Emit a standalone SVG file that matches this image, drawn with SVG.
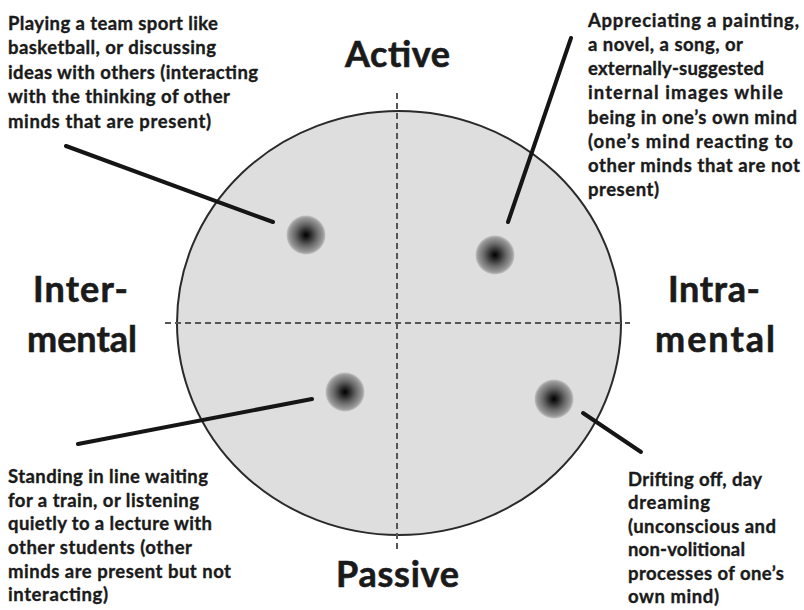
<svg xmlns="http://www.w3.org/2000/svg" width="804" height="610" viewBox="0 0 804 610">
  <style>
    .note { font-family: Lato, "Open Sans", "Liberation Sans", sans-serif; font-weight: 700; font-size: 18.5px; fill: #1a1a1a; stroke: #1a1a1a; stroke-width: 0.35; }
    .axis { font-family: Lato, "Open Sans", "Liberation Sans", sans-serif; font-weight: 700; font-size: 36px; fill: #1a1a1a; stroke: #1a1a1a; stroke-width: 0.6; }
    .dash { stroke: #555; stroke-width: 2; stroke-dasharray: 6 4; fill: none; }
    .leader { stroke: #151515; stroke-width: 4; stroke-linecap: round; fill: none; }
  </style>
  <defs>
    <radialGradient id="spot" cx="0.5" cy="0.5" r="0.5">
      <stop offset="0" stop-color="#000"/>
      <stop offset="0.2" stop-color="#222"/>
      <stop offset="0.55" stop-color="#666"/>
      <stop offset="0.88" stop-color="#9a9a9a"/>
      <stop offset="1" stop-color="#c4c4c4"/>
    </radialGradient>
  </defs>
  <rect width="804" height="610" fill="#fff"/>

  <!-- quadrant field -->
  <g id="field">
    <ellipse cx="399" cy="323" rx="222" ry="212" fill="#dedede" stroke="#2a2a2a" stroke-width="2"/>
    <line class="dash" x1="397" y1="93" x2="397" y2="553"/>
    <line class="dash" x1="165" y1="323" x2="630" y2="323"/>
  </g>

  <!-- axis labels -->
  <g id="label-active"><text class="axis" x="345" y="67" textLength="105">Active</text></g>
  <g id="label-passive"><text class="axis" x="336" y="587" textLength="123">Passive</text></g>
  <g id="label-inter">
    <text class="axis" x="33" y="302" textLength="95">Inter-</text>
    <text class="axis" x="27" y="352" textLength="110">mental</text>
  </g>
  <g id="label-intra">
    <text class="axis" x="668" y="302" textLength="92">Intra-</text>
    <text class="axis" x="655" y="352" textLength="120">mental</text>
  </g>

  <!-- spots -->
  <g id="spot-inter-active"><circle cx="306" cy="235" r="19.5" fill="url(#spot)"/></g>
  <g id="spot-intra-active"><circle cx="495" cy="255" r="19.5" fill="url(#spot)"/></g>
  <g id="spot-inter-passive"><circle cx="345" cy="392" r="19.5" fill="url(#spot)"/></g>
  <g id="spot-intra-passive"><circle cx="554" cy="399" r="19.5" fill="url(#spot)"/></g>

  <!-- leader lines -->
  <g id="connectors">
    <line class="leader" x1="66" y1="146" x2="273" y2="222"/>
    <line class="leader" x1="571" y1="38" x2="508" y2="222"/>
    <line class="leader" x1="78" y1="444" x2="312" y2="399"/>
    <line class="leader" x1="583" y1="413" x2="641" y2="452"/>
  </g>

  <!-- descriptions -->
  <g id="note-inter-active">
    <text class="note" x="8" y="29.5" textLength="210">Playing a team sport like</text>
    <text class="note" x="8" y="54" textLength="208">basketball, or discussing</text>
    <text class="note" x="8" y="78.5" textLength="250">ideas with others (interacting</text>
    <text class="note" x="8" y="103" textLength="222">with the thinking of other</text>
    <text class="note" x="8" y="127.5" textLength="203">minds that are present)</text>
  </g>
  <g id="note-intra-active">
    <text class="note" x="588" y="26.5" textLength="211">Appreciating a painting,</text>
    <text class="note" x="588" y="50.8" textLength="155">a novel, a song, or</text>
    <text class="note" x="588" y="75" textLength="176">externally-suggested</text>
    <text class="note" x="588" y="99.3" textLength="195">internal images while</text>
    <text class="note" x="588" y="123.6" textLength="209">being in one’s own mind</text>
    <text class="note" x="588" y="147.9" textLength="205">(one’s mind reacting to</text>
    <text class="note" x="588" y="172.1" textLength="212">other minds that are not</text>
    <text class="note" x="588" y="196.4" textLength="71">present)</text>
  </g>
  <g id="note-inter-passive">
    <text class="note" x="8" y="483" textLength="200">Standing in line waiting</text>
    <text class="note" x="8" y="506.7" textLength="191">for a train, or listening</text>
    <text class="note" x="8" y="530.3" textLength="204">quietly to a lecture with</text>
    <text class="note" x="8" y="554" textLength="184">other students (other</text>
    <text class="note" x="8" y="577.6" textLength="223">minds are present but not</text>
    <text class="note" x="8" y="601.3" textLength="100">interacting)</text>
  </g>
  <g id="note-intra-passive">
    <text class="note" x="628" y="486" textLength="134">Drifting off, day</text>
    <text class="note" x="628" y="509.4" textLength="82">dreaming</text>
    <text class="note" x="628" y="532.8" textLength="148">(unconscious and</text>
    <text class="note" x="628" y="556.2" textLength="117">non-volitional</text>
    <text class="note" x="628" y="579.6" textLength="156">processes of one’s</text>
    <text class="note" x="628" y="603" textLength="91">own mind)</text>
  </g>
</svg>
